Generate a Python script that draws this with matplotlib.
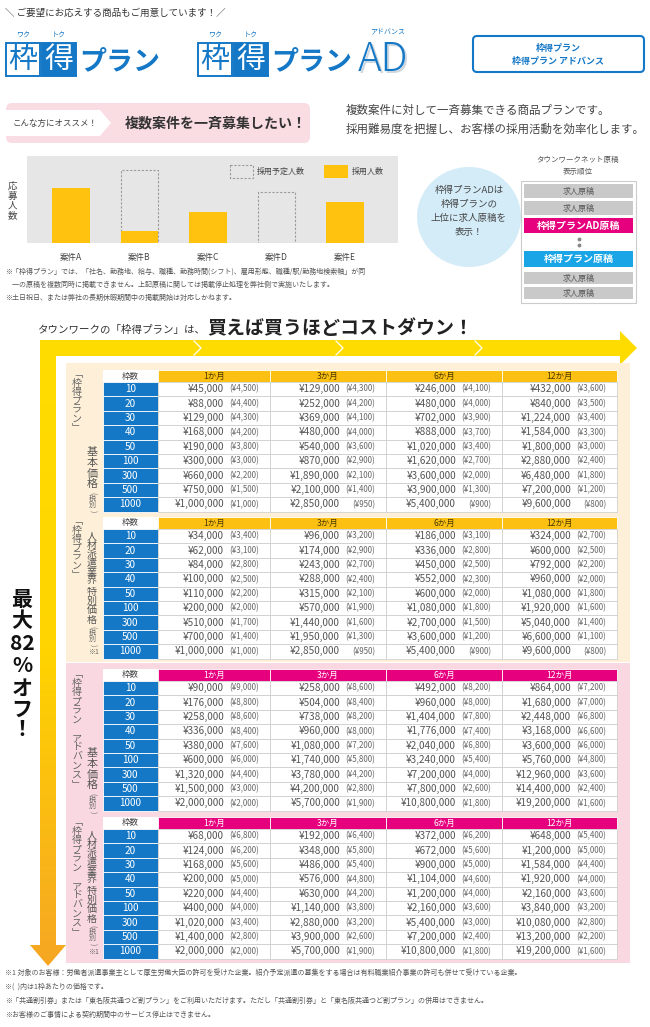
import matplotlib
matplotlib.use('Agg')
import matplotlib.pyplot as plt
import numpy as np
from matplotlib.patches import Rectangle, FancyBboxPatch, Ellipse, Polygon
from matplotlib.colors import LinearSegmentedColormap

plt.rcParams['font.family'] = ['Noto Sans CJK JP', 'DejaVu Sans']

# ---- データ ----
cases = ['案件A', '案件B', '案件C', '案件D', '案件E']
hired = [55, 12, 31, 0, 41]
planned_cases = ['案件B', '案件D']
planned = [73, 51]

frames = [10, 20, 30, 40, 50, 100, 300, 500, 1000]
months = ['1か月', '3か月', '6か月', '12か月']

plan_basic_price = [[45000, 129000, 246000, 432000], [88000, 252000, 480000, 840000],
                    [129000, 369000, 702000, 1224000], [168000, 480000, 888000, 1584000],
                    [190000, 540000, 1020000, 1800000], [300000, 870000, 1620000, 2880000],
                    [660000, 1890000, 3600000, 6480000], [750000, 2100000, 3900000, 7200000],
                    [1000000, 2850000, 5400000, 9600000]]
plan_basic_unit = [[4500, 4300, 4100, 3600], [4400, 4200, 4000, 3500], [4300, 4100, 3900, 3400],
                   [4200, 4000, 3700, 3300], [3800, 3600, 3400, 3000], [3000, 2900, 2700, 2400],
                   [2200, 2100, 2000, 1800], [1500, 1400, 1300, 1200], [1000, 950, 900, 800]]

plan_special_price = [[34000, 96000, 186000, 324000], [62000, 174000, 336000, 600000],
                      [84000, 243000, 450000, 792000], [100000, 288000, 552000, 960000],
                      [110000, 315000, 600000, 1080000], [200000, 570000, 1080000, 1920000],
                      [510000, 1440000, 2700000, 5040000], [700000, 1950000, 3600000, 6600000],
                      [1000000, 2850000, 5400000, 9600000]]
plan_special_unit = [[3400, 3200, 3100, 2700], [3100, 2900, 2800, 2500], [2800, 2700, 2500, 2200],
                     [2500, 2400, 2300, 2000], [2200, 2100, 2000, 1800], [2000, 1900, 1800, 1600],
                     [1700, 1600, 1500, 1400], [1400, 1300, 1200, 1100], [1000, 950, 900, 800]]

adv_basic_price = [[90000, 258000, 492000, 864000], [176000, 504000, 960000, 1680000],
                   [258000, 738000, 1404000, 2448000], [336000, 960000, 1776000, 3168000],
                   [380000, 1080000, 2040000, 3600000], [600000, 1740000, 3240000, 5760000],
                   [1320000, 3780000, 7200000, 12960000], [1500000, 4200000, 7800000, 14400000],
                   [2000000, 5700000, 10800000, 19200000]]
adv_basic_unit = [[9000, 8600, 8200, 7200], [8800, 8400, 8000, 7000], [8600, 8200, 7800, 6800],
                  [8400, 8000, 7400, 6600], [7600, 7200, 6800, 6000], [6000, 5800, 5400, 4800],
                  [4400, 4200, 4000, 3600], [3000, 2800, 2600, 2400], [2000, 1900, 1800, 1600]]

adv_special_price = [[68000, 192000, 372000, 648000], [124000, 348000, 672000, 1200000],
                     [168000, 486000, 900000, 1584000], [200000, 576000, 1104000, 1920000],
                     [220000, 630000, 1200000, 2160000], [400000, 1140000, 2160000, 3840000],
                     [1020000, 2880000, 5400000, 10080000], [1400000, 3900000, 7200000, 13200000],
                     [2000000, 5700000, 10800000, 19200000]]
adv_special_unit = [[6800, 6400, 6200, 5400], [6200, 5800, 5600, 5000], [5600, 5400, 5000, 4400],
                    [5000, 4800, 4600, 4000], [4400, 4200, 4000, 3600], [4000, 3800, 3600, 3200],
                    [3400, 3200, 3000, 2800], [2800, 2600, 2400, 2200], [2000, 1900, 1800, 1600]]

# ---- 色 ----
BLUE = '#1578C6'
GOLD = '#FBC012'
MAGENTA = '#E6007E'
YELLOW = '#FFC20E'
GRAY_TXT = '#555555'


def pt(px):
    return px * 0.72


fig = plt.figure(figsize=(6.5, 10.27), dpi=100)
fig.patch.set_facecolor('white')
ax = fig.add_axes([0, 0, 1, 1])
ax.set_zorder(2)
ax.patch.set_visible(False)
ax.axis('off')

VMAP = {'「': '﹁', '」': '﹂'}
VROT = {'(': -90, ')': -90}


def vtext(x, top, s, px, pitch, color=GRAY_TXT, weight='normal'):
    # 縦書き: 1文字ずつ並べる（括弧は詰める）
    y = top
    for ch in s:
        a = pitch * (0.6 if ch in '()' else 1.0)
        ax.text(x, y + a / 2, VMAP.get(ch, ch), ha='center', va='center',
                fontsize=pt(px), color=color, fontweight=weight,
                rotation=VROT.get(ch, 0), rotation_mode='anchor')
        y += a
    return y


# ---- ヘッダー ----
ax.text(5, 13, '＼ ご要望にお応えする商品もご用意しています！／', fontsize=pt(9.5),
        color='#333', va='center')


def logo(x0, ad=False):
    ax.add_patch(Rectangle((x0, 43), 34, 33, fc='white', ec=BLUE, lw=1.4))
    ax.text(x0 + 17, 59.5, '枠', fontsize=pt(29), color=BLUE, ha='center', va='center')
    ax.add_patch(Rectangle((x0 + 36, 43), 34, 33, fc=BLUE, ec=BLUE, lw=1.4))
    ax.text(x0 + 53, 59.5, '得', fontsize=pt(29), color='white', ha='center', va='center')
    ax.text(x0 + 17, 36, 'ワク', fontsize=pt(7), color=BLUE, ha='center', va='center')
    ax.text(x0 + 53, 36, 'トク', fontsize=pt(7), color=BLUE, ha='center', va='center')
    ax.text(x0 + 73, 61, 'プラン', fontsize=pt(27), color=BLUE, ha='left', va='center',
            fontweight='bold')
    if ad:
        ax.text(x0 + 162, 62, 'AD', fontsize=pt(40), color='#cfd8e0', ha='left',
                va='center', fontweight='light')
        ax.text(x0 + 160, 60, 'AD', fontsize=pt(40), color=BLUE, ha='left',
                va='center', fontweight='light')
        ax.text(x0 + 190, 33, 'アドバンス', fontsize=pt(7), color=BLUE, ha='center', va='center')


logo(6)
logo(198, ad=True)

ax.add_patch(FancyBboxPatch((473, 36), 171, 36, boxstyle='round,pad=0,rounding_size=4',
                            fc='white', ec=BLUE, lw=1.5))
ax.text(558, 48, '枠得プラン', fontsize=pt(9), color=BLUE, ha='center', va='center',
        fontweight='bold')
ax.text(558, 61, '枠得プラン アドバンス', fontsize=pt(9), color=BLUE, ha='center',
        va='center', fontweight='bold')

# ---- こんな方にオススメ ----
ax.add_patch(FancyBboxPatch((6, 103), 304, 40, boxstyle='round,pad=0,rounding_size=6',
                            fc='#FADCE3', ec='none'))
ax.add_patch(Polygon([(6, 110), (100, 110), (111, 123), (100, 136), (6, 136)],
                     fc='white', ec='none'))
ax.text(55, 123, 'こんな方にオススメ！', fontsize=pt(8.5), color='#444', ha='center', va='center')
ax.text(125, 123, '複数案件を一斉募集したい！', fontsize=pt(14), color='#333', ha='left',
        va='center', fontweight='bold')

ax.text(346, 110, '複数案件に対して一斉募集できる商品プランです。', fontsize=pt(11.5),
        color='#444', va='center')
ax.text(346, 129, '採用難易度を把握し、お客様の採用活動を効率化します。', fontsize=pt(11.5),
        color='#444', va='center')

# ---- 棒グラフ ----
W, H = 650.0, 1027.0
cx0, cx1, cy0, cy1 = 27, 398, 156, 243
ax2 = fig.add_axes([cx0 / W, 1 - cy1 / H, (cx1 - cx0) / W, (cy1 - cy0) / H])
ax2.set_zorder(1)
ax2.set_facecolor('#E6E6E7')
xpos = np.arange(len(cases))
ax2.bar(xpos, hired, width=0.55, color=YELLOW, zorder=3)
pidx = [cases.index(c) for c in planned_cases]
ax2.bar(pidx, planned, width=0.55, fill=False, edgecolor='#9a9a9a', linestyle=(0, (2, 1.5)),
        linewidth=0.8, zorder=2)
ax2.set_xlim(-0.64, 4.77)
ax2.set_ylim(0, 87)
ax2.set_xticks(xpos)
ax2.set_xticklabels(cases, fontsize=pt(8.5), color='#444')
ax2.tick_params(axis='x', length=0, pad=7)
ax2.set_yticks([])
for s in ax2.spines.values():
    s.set_visible(False)

vtext(12, 181, '応募人数', 9.5, 10, color='#444')
ax.add_patch(Rectangle((230, 165), 23, 13, fc='none', ec='#9a9a9a', ls=(0, (2, 1.5)), lw=0.8))
ax.text(257, 171.5, '採用予定人数', fontsize=pt(8), color='#444', va='center')
ax.add_patch(Rectangle((324, 165), 24, 13, fc=YELLOW, ec='none'))
ax.text(352, 171.5, '採用人数', fontsize=pt(8), color='#444', va='center')

# ---- 表示順位 ----
ax.add_patch(Ellipse((469, 217), 104, 100, fc='#D3ECF8', ec='none'))
for i, line in enumerate(['枠得プランADは', '枠得プランの', '上位に求人原稿を', '表示！']):
    ax.text(469, 190 + i * 14, line, fontsize=pt(9.5), color='#444', ha='center', va='center')

ax.text(578, 160, 'タウンワークネット原稿', fontsize=pt(7.5), color=GRAY_TXT, ha='center', va='center')
ax.text(578, 172, '表示順位', fontsize=pt(7.5), color=GRAY_TXT, ha='center', va='center')
ax.add_patch(Rectangle((521, 181), 115, 122, fc='white', ec='#cccccc', lw=0.8))
rank_rows = [('求人原稿', '#C9C9C9', '#555', 184, 14, 8),
             ('求人原稿', '#C9C9C9', '#555', 201, 14, 8),
             ('枠得プランAD原稿', MAGENTA, 'white', 218, 15, 10),
             ('枠得プラン原稿', '#1AA6E6', 'white', 251, 16, 10),
             ('求人原稿', '#C9C9C9', '#555', 272, 12, 8),
             ('求人原稿', '#C9C9C9', '#555', 287, 12, 8)]
for label, fc, tc, y, h, fsz in rank_rows:
    ax.add_patch(Rectangle((524, y), 109, h, fc=fc, ec='none'))
    ax.text(578.5, y + h / 2, label, fontsize=pt(fsz), color=tc, ha='center', va='center',
            fontweight='bold' if tc == 'white' else 'normal')
ax.plot([578.5, 578.5], [239, 245], ls='none', marker='o', ms=1.8, color='#888')

notes_top = ['※「枠得プラン」では、「社名、勤務地、給与、職種、勤務時間(シフト)、雇用形態、職種/駅/勤務地検索軸」が同',
             '　一の原稿を複数同時に掲載できません。上記原稿に関しては掲載停止処理を弊社側で実施いたします。',
             '※土日祝日、または弊社の長期休暇期間中の掲載開始は対応しかねます。']
for i, t in enumerate(notes_top):
    ax.text(5, 272 + i * 13, t, fontsize=pt(7), color='#555', va='center')

# ---- 矢印 ----
arrow = Polygon([(40, 340), (620, 340), (620, 331), (637, 348), (620, 365), (620, 356),
                 (56, 356), (56, 945), (66, 945), (48, 966), (30, 945), (40, 945)],
                fc='none', ec='none')
ax.add_patch(arrow)
grad = np.linspace(0, 1, 256).reshape(-1, 1)
cmap = LinearSegmentedColormap.from_list('arr', ['#FFDD00', '#FFD400', '#F6A623'])
im = ax.imshow(grad, extent=(28, 640, 968, 330), cmap=cmap, aspect='auto', zorder=1)
im.set_clip_path(arrow)
for xc in [198, 340, 479]:
    ax.plot([xc - 4, xc + 3, xc - 4], [341, 348, 355], color='white', lw=0.9, zorder=2)

ax.text(205, 330, 'タウンワークの「枠得プラン」は、', fontsize=pt(10.5), color='#333',
        va='center', ha='right')
ax.text(207, 329, '買えば買うほどコストダウン！', fontsize=pt(19), color='#222', va='center',
        fontweight='bold')

big = [('最', 600), ('大', 621), ('82', 644), ('%', 665), ('オ', 688), ('フ', 709), ('！', 730)]
for ch, y in big:
    ax.text(22, y, ch, fontsize=pt(21), color='#111', ha='center', va='center', fontweight='bold')

# ---- 料金表 ----
ax.add_patch(Rectangle((66, 363), 564, 299, fc='#FEF0D8', ec='none'))
ax.add_patch(Rectangle((66, 663), 564, 300, fc='#F9D8E1', ec='none'))

cols = [103, 158, 270, 386, 502, 617]
HEAD_H = 12
ROW_H = 14.4


def draw_table(top, prices, units, head_color, head_txt):
    ax.add_patch(Rectangle((cols[0], top), cols[1] - cols[0], HEAD_H, fc='white', ec='none'))
    ax.text((cols[0] + cols[1]) / 2, top + HEAD_H / 2, '枠数', fontsize=pt(8.5), color='#444',
            ha='center', va='center')
    for j, m in enumerate(months):
        ax.add_patch(Rectangle((cols[j + 1], top), cols[j + 2] - cols[j + 1], HEAD_H,
                               fc=head_color, ec='white', lw=0.6))
        ax.text((cols[j + 1] + cols[j + 2]) / 2, top + HEAD_H / 2, m, fontsize=pt(8.5),
                color=head_txt, ha='center', va='center')
    for i, n in enumerate(frames):
        y = top + HEAD_H + i * ROW_H
        ax.add_patch(Rectangle((cols[0], y), cols[1] - cols[0], ROW_H, fc=BLUE, ec='white',
                               lw=0.6))
        ax.text((cols[0] + cols[1]) / 2, y + ROW_H / 2, str(n), fontsize=pt(10),
                color='white', ha='center', va='center')
        for j in range(len(months)):
            ax.add_patch(Rectangle((cols[j + 1], y), cols[j + 2] - cols[j + 1], ROW_H,
                                   fc='white', ec='#c9c9c9', lw=0.5))
            ax.text(cols[j + 2] - 46, y + ROW_H / 2, f'¥{prices[i][j]:,}', fontsize=pt(10),
                    color='#555', ha='right', va='center')
            ax.text(cols[j + 2] - 11, y + ROW_H / 2, f'(¥{units[i][j]:,})', fontsize=pt(8),
                    color='#666', ha='right', va='center')


tables = [(370, plan_basic_price, plan_basic_unit, GOLD, '#4a3a00'),
          (517, plan_special_price, plan_special_unit, GOLD, '#4a3a00'),
          (669, adv_basic_price, adv_basic_unit, MAGENTA, 'white'),
          (817, adv_special_price, adv_special_unit, MAGENTA, 'white')]
for top, pr, un, hc, ht in tables:
    draw_table(top, pr, un, hc, ht)

# 縦書きラベル
vtext(77, 370, '「枠得プラン」', 10, 8.8, color='#666')
vtext(92, 447, '基本価格', 11, 10.7, color='#555')
vtext(92, 491, '(税別)', 7, 6.8, color='#666')

vtext(77, 517, '「枠得プラン」', 10, 8.8, color='#666')
vtext(92, 532, '人材派遣業界', 10, 8.8, color='#555')
vtext(92, 587, '特別価格', 10, 9.3, color='#555')
vtext(92, 625, '(税別)', 7, 6.8, color='#666')
ax.text(93, 652, '※1', fontsize=pt(7), color='#666', ha='center', va='center')

vtext(77, 669, '「枠得プラン アドバンス」', 10, 9.2, color='#666')
vtext(92, 748, '基本価格', 11, 10.7, color='#555')
vtext(92, 792, '(税別)', 7, 6.8, color='#666')

vtext(77, 817, '「枠得プラン アドバンス」', 10, 9.2, color='#666')
vtext(92, 831, '人材派遣業界', 10, 8.8, color='#555')
vtext(92, 886, '特別価格', 10, 9.3, color='#555')
vtext(92, 924, '(税別)', 7, 6.8, color='#666')
ax.text(93, 952, '※1', fontsize=pt(7), color='#666', ha='center', va='center')

# ---- 注記 ----
notes_bottom = ['※1 対象のお客様：労働者派遣事業主として厚生労働大臣の許可を受けた企業。紹介予定派遣の募集をする場合は有料職業紹介事業の許可も併せて受けている企業。',
                '※(  )内は1枠あたりの価格です。',
                '※「共通割引券」または「東名阪共通つど割プラン」をご利用いただけます。ただし「共通割引券」と「東名阪共通つど割プラン」の併用はできません。',
                '※お客様のご事情による契約期間中のサービス停止はできません。']
for i, t in enumerate(notes_bottom):
    ax.text(5, 973 + i * 14, t, fontsize=pt(7), color='#555', va='center')

ax.set_xlim(0, 650)
ax.set_ylim(1027, 0)
fig.savefig('out.png', dpi=100, facecolor='white')
